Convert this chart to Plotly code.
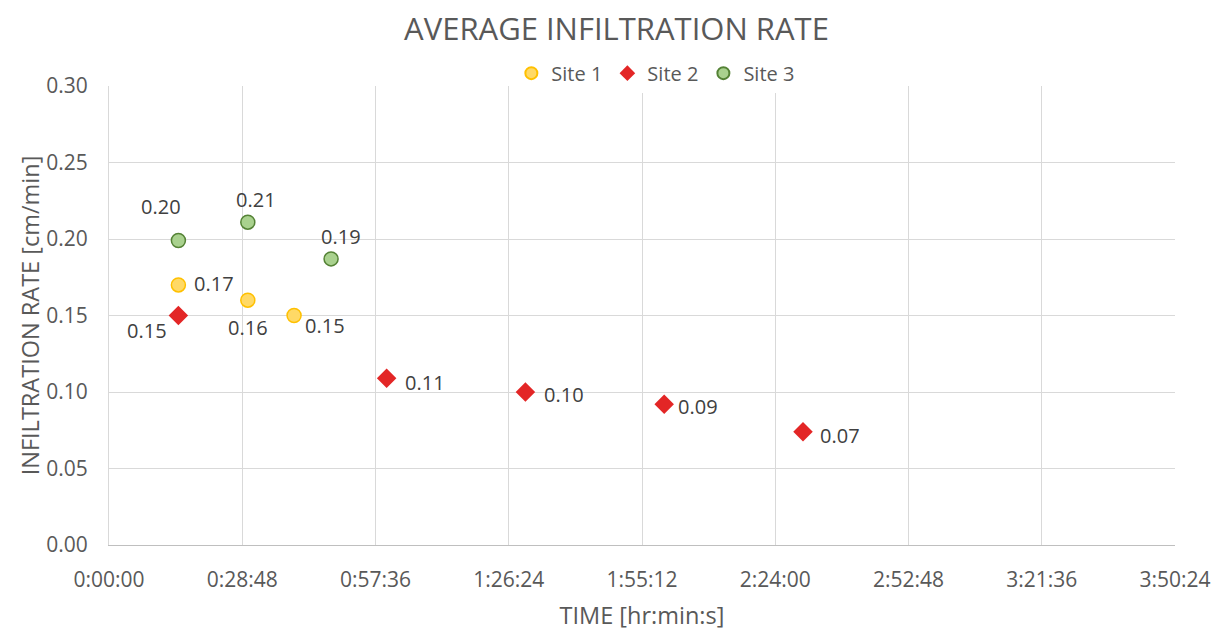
import plotly.graph_objects as go

# Time in minutes
site1_t = [15, 30, 40]
site1_v = [0.170, 0.160, 0.150]
site2_t = [15, 60, 90, 120, 150]
site2_v = [0.150, 0.109, 0.100, 0.092, 0.074]
site3_t = [15, 30, 48]
site3_v = [0.199, 0.211, 0.187]

tick_vals = [0, 28.8, 57.6, 86.4, 115.2, 144.0, 172.8, 201.6, 230.4]
tick_text = ["0:00:00", "0:28:48", "0:57:36", "1:26:24", "1:55:12",
             "2:24:00", "2:52:48", "3:21:36", "3:50:24"]

# label offsets in pixels (style only)
site1_off = [(36, 1), (0, -27), (31, -10)]
site2_off = [(-31, -15), (38, -4), (39, -2), (34, -2), (37, -4)]
site3_off = [(-17, 34), (8, 23), (10, 22)]

FONT = "Open Sans"
GRAY = "#595959"
LBL = dict(family=FONT, size=20, color="#404040")

fig = go.Figure()
fig.add_trace(go.Scatter(
    x=site1_t, y=site1_v, mode="markers", name="Site 1",
    marker=dict(symbol="circle", size=14, color="#ffd966",
                line=dict(color="#ffc000", width=1.5)),
))
fig.add_trace(go.Scatter(
    x=site2_t, y=site2_v, mode="markers", name="Site 2",
    marker=dict(symbol="diamond", size=15, color="#e32626",
                line=dict(width=0)),
))
fig.add_trace(go.Scatter(
    x=site3_t, y=site3_v, mode="markers", name="Site 3",
    marker=dict(symbol="circle", size=14, color="#a9d18e",
                line=dict(color="#548235", width=1.5)),
))

for ts, vs, offs in [(site1_t, site1_v, site1_off),
                     (site2_t, site2_v, site2_off),
                     (site3_t, site3_v, site3_off)]:
    for t, v, (dx, dy) in zip(ts, vs, offs):
        fig.add_annotation(x=t, y=v, text=f"{v:.2f}", showarrow=False,
                           xanchor="center", yanchor="middle",
                           xshift=dx, yshift=dy, font=LBL)

fig.update_layout(
    width=1217, height=623,
    margin=dict(l=101, r=50, t=78, b=86, autoexpand=False),
    paper_bgcolor="white", plot_bgcolor="white",
    font=dict(family=FONT, color=GRAY, size=20),
    title=dict(text="AVERAGE INFILTRATION RATE", x=0.5, xanchor="center",
               y=0.966, yanchor="middle",
               font=dict(family=FONT, size=31, color=GRAY)),
    legend=dict(orientation="h", x=0.513, xanchor="center", y=1.028, yanchor="middle",
                font=dict(family=FONT, size=20, color=GRAY),
                itemsizing="constant", tracegroupgap=0, itemwidth=30),
    showlegend=True,
)
fig.update_xaxes(
    range=[0, 230.4], tickvals=tick_vals, ticktext=tick_text, automargin=False,
    showgrid=True, gridcolor="#d9d9d9", gridwidth=1,
    zeroline=False, showline=True, linecolor="#bfbfbf", linewidth=1,
    ticks="", ticklabelstandoff=16, tickfont=dict(family=FONT, size=21, color=GRAY),
    title=dict(text="TIME [hr:min:s]", font=dict(family=FONT, size=23.5, color=GRAY),
               standoff=21),
)
fig.update_yaxes(
    range=[0, 0.30], dtick=0.05, tickformat=".2f", automargin=False,
    showgrid=True, gridcolor="#d9d9d9", gridwidth=1,
    zeroline=False, showline=True, linecolor="#d9d9d9", linewidth=1,
    ticks="", ticklabelstandoff=16, tickfont=dict(family=FONT, size=21, color=GRAY),
    title=dict(text="INFILTRATION RATE [cm/min]", font=dict(family=FONT, size=23.5, color=GRAY),
               standoff=0),
)

fig.write_html("out.html")
